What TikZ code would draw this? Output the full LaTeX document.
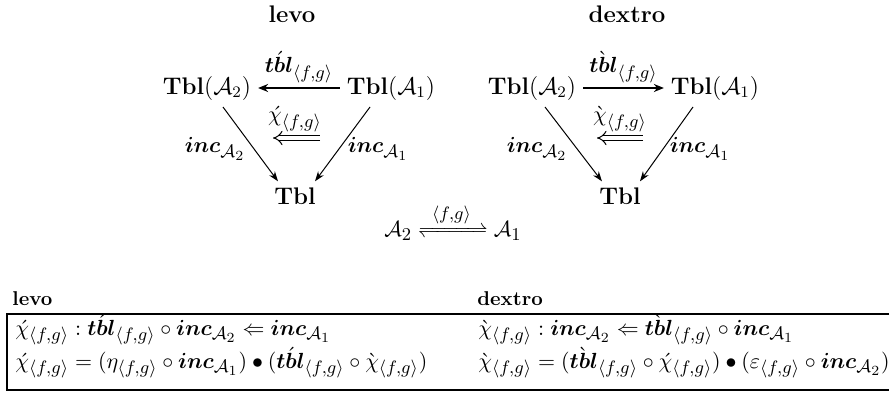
\documentclass[tikz,border=0pt]{standalone}
\usepackage{amsmath,amssymb,mathtools}
\usetikzlibrary{arrows.meta}
\DeclareMathSizes{10.5}{10.5}{9}{7}
\newcommand{\mtxt}{\fontsize{10.5}{13}\selectfont}
\begin{document}
\begin{tikzpicture}[x=0.5pt,y=-0.5pt,
  obj/.style={font=\large, inner sep=3.3pt, anchor=base},
  lbl/.style={inner sep=0pt, font=\mtxt},
  mor/.style={line width=1.2pt, -{Stealth[length=5pt,width=4pt]}},
  incarr/.style={line width=0.5pt, -{Stealth[length=5pt,width=3.5pt]}},
  nat/.style={double, double distance=2pt, line width=0.5pt, -{Implies}},
  ttl/.style={font=\large\bfseries, anchor=base},
  hdr/.style={font=\bfseries, anchor=base west, inner sep=0pt},
  rowtext/.style={anchor=base west, inner sep=0pt, font=\mtxt}]
\useasboundingbox (0,0) rectangle (891,396);

% titles
\node[ttl] (tL) at (292,23) {levo};
\node[ttl] (tR) at (627,23) {dextro};

% left diagram
\node[obj] (L2) at (207,94) {$\mathbf{Tbl}(\mathcal{A}_2)$};
\node[obj] (L1) at (391,94) {$\mathbf{Tbl}(\mathcal{A}_1)$};
\node[obj] (LT) at (295,205) {$\mathbf{Tbl}$};
\draw[mor] (L1) -- node[above, inner sep=2pt, font=\mtxt] {$\acute{\boldsymbol{tbl}}_{\langle f,g\rangle}$} (L2);
\draw[incarr] ([xshift=8pt]L2.south) -- ([xshift=-8.5pt]LT.north);
\draw[incarr] ([xshift=-10.5pt]L1.south) -- ([xshift=10pt]LT.north);
\node[lbl] (lA2) at (215,149) {$\boldsymbol{inc}_{\mathcal{A}_2}$};
\node[lbl] (lA1) at (378,149) {$\boldsymbol{inc}_{\mathcal{A}_1}$};
\coordinate (nLa) at (320,138);
\coordinate (nLb) at (273,138);
\draw[nat] (nLa) -- (nLb);
\node[lbl] (chiL) at (295,119) {$\acute{\chi}_{\langle f,g\rangle}$};

% right diagram
\node[obj] (R2) at (532,94) {$\mathbf{Tbl}(\mathcal{A}_2)$};
\node[obj] (R1) at (715,94) {$\mathbf{Tbl}(\mathcal{A}_1)$};
\node[obj] (RT) at (620,205) {$\mathbf{Tbl}$};
\draw[mor] (R2) -- node[above, inner sep=2pt, font=\mtxt] {$\grave{\boldsymbol{tbl}}_{\langle f,g\rangle}$} (R1);
\draw[incarr] ([xshift=6.5pt]R2.south) -- ([xshift=-9pt]RT.north);
\draw[incarr] ([xshift=-11pt]R1.south) -- ([xshift=10pt]RT.north);
\node[lbl] (rA2) at (537,149) {$\boldsymbol{inc}_{\mathcal{A}_2}$};
\node[lbl] (rA1) at (700,149) {$\boldsymbol{inc}_{\mathcal{A}_1}$};
\coordinate (nRa) at (643,138);
\coordinate (nRb) at (597,138);
\draw[nat] (nRa) -- (nRb);
\node[lbl] (chiR) at (620,119) {$\grave{\chi}_{\langle f,g\rangle}$};

% adjunction
\node[anchor=base, inner sep=0pt, font=\mtxt] (adj) at (453,236) {$\mathcal{A}_2 \xrightleftharpoons{\mkern8mu\langle f,g\rangle\mkern8mu} \mathcal{A}_1$};

% table
\node[hdr] (hL) at (12,305) {levo};
\node[hdr] (hR) at (477,305) {dextro};
\draw[line width=1.2pt] (889,314) -- (7,314) -- (7,390) -- (889,390);
\node[rowtext] (r1L) at (15,335) {$\acute{\chi}_{\langle f,g\rangle} : \acute{\boldsymbol{tbl}}_{\langle f,g\rangle} \circ \boldsymbol{inc}_{\mathcal{A}_2} \Leftarrow \boldsymbol{inc}_{\mathcal{A}_1}$};
\node[rowtext] (r2L) at (15,368) {$\acute{\chi}_{\langle f,g\rangle} = (\eta_{\langle f,g\rangle} \circ \boldsymbol{inc}_{\mathcal{A}_1}) \bullet (\acute{\boldsymbol{tbl}}_{\langle f,g\rangle} \circ \grave{\chi}_{\langle f,g\rangle})$};
\node[rowtext] (r1R) at (478,335) {$\grave{\chi}_{\langle f,g\rangle} : \boldsymbol{inc}_{\mathcal{A}_2} \Leftarrow \grave{\boldsymbol{tbl}}_{\langle f,g\rangle} \circ \boldsymbol{inc}_{\mathcal{A}_1}$};
\node[rowtext] (r2R) at (478,368) {$\grave{\chi}_{\langle f,g\rangle} = (\grave{\boldsymbol{tbl}}_{\langle f,g\rangle} \circ \acute{\chi}_{\langle f,g\rangle}) \bullet (\varepsilon_{\langle f,g\rangle} \circ \boldsymbol{inc}_{\mathcal{A}_2})$};
\end{tikzpicture}
\end{document}
